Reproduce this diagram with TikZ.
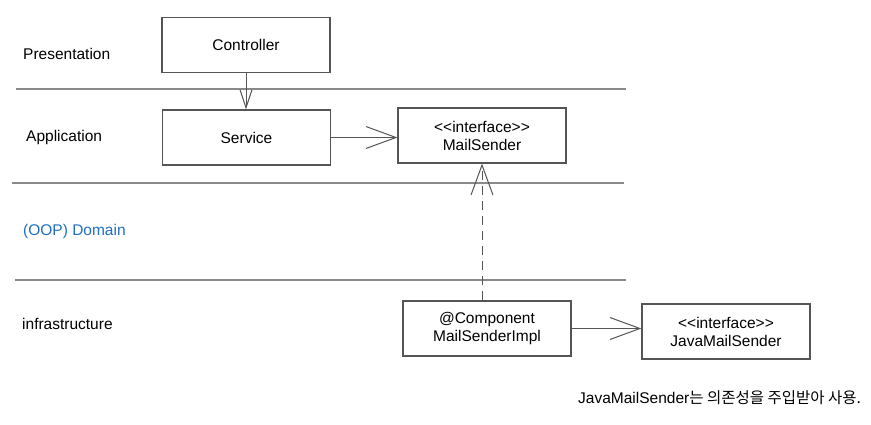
\documentclass[tikz,border=0pt]{standalone}
\usepackage{fontspec}
\setmainfont{Liberation Sans}
\newfontfamily\krfont{Noto Sans CJK KR}
\usetikzlibrary{arrows.meta}
\definecolor{boxc}{HTML}{555555}
\definecolor{linec}{HTML}{8A8A8A}
\definecolor{domc}{HTML}{1F6FC0}
\newcommand{\stopen}{<\kern0pt<}
\newcommand{\stclose}{>\kern0pt>}
\begin{document}
\begin{tikzpicture}[x=1pt,y=-1pt,
  every node/.style={font=\fontsize{15.5}{18}\selectfont},
  cls/.style={draw=boxc,line width=1.2pt,minimum width=168pt,minimum height=55pt,align=center,inner sep=0pt},
  sep/.style={draw=linec,line width=1.5pt},
  lay/.style={anchor=west,inner sep=0pt},
  bigarr/.style={draw=boxc,line width=1pt,-{Straight Barb[length=30pt,width=22pt,line width=1pt]}},
  smallarr/.style={draw=boxc,line width=1pt,-{Straight Barb[length=18pt,width=12pt,line width=1pt]}},
  dsh/.style={dash pattern=on 9pt off 6pt}]
\useasboundingbox (0,0) rectangle (871,424);
\draw[sep] (16,89) -- (626,89);
\draw[sep] (12,183) -- (624,183);
\draw[sep] (15,280) -- (626,280);
\node[lay] (lp) at (23,54) {Presentation};
\node[lay] (la) at (26,137) {Application};
\node[lay,text=domc] (ld) at (23,231) {(OOP) Domain};
\node[lay] (li) at (22,324) {infrastructure};
\node[cls] (ctrl) at (246,45) {Controller};
\node[cls] (svc) at (246.5,137.5) {Service};
\node[cls] (ms) at (482,135.5) {\stopen interface\stclose\\MailSender};
\node[cls] (msi) at (487,328.5) {@Component\\MailSenderImpl};
\node[cls] (jms) at (726,331.5) {\stopen interface\stclose\\JavaMailSender};
\node[anchor=west,inner sep=0pt] (note) at (578,398) {JavaMailSender{\krfont 는 의존성을 주입받아 사용.}};
\draw[smallarr] (ctrl.south) -- (ctrl.south |- svc.north);
\draw[bigarr] (svc.east) -- (svc.east -| ms.west);
\draw[bigarr,dsh] (msi.north -| ms.south) -- (ms.south);
\draw[bigarr] (msi.east) -- (msi.east -| jms.west);
\end{tikzpicture}
\end{document}
